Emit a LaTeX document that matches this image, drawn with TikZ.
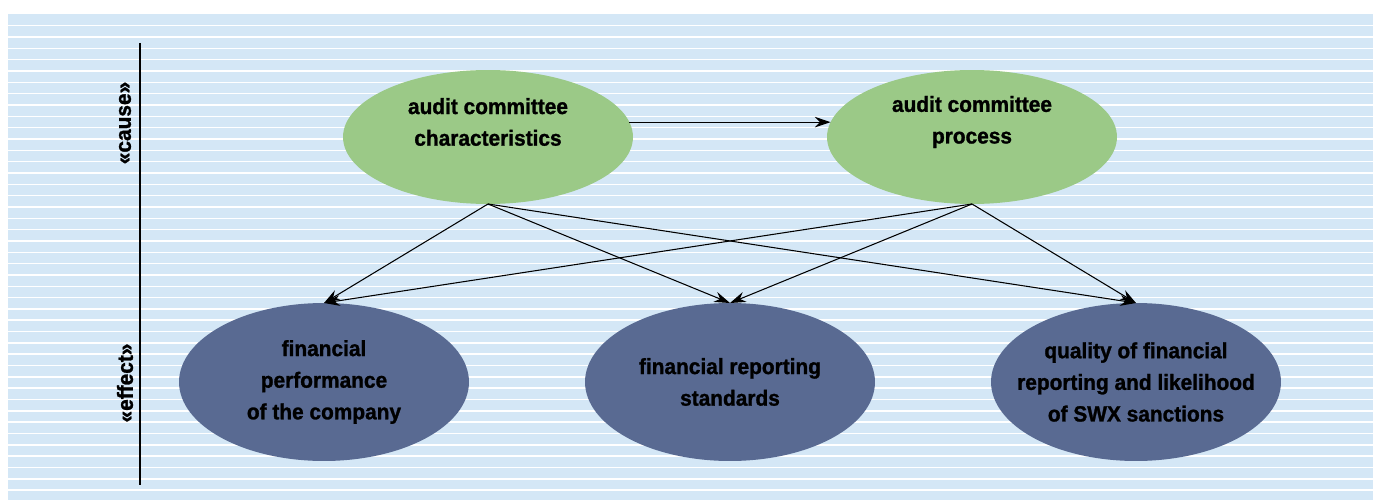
\documentclass[tikz,border=0pt]{standalone}
\usepackage{fontspec}
\setmainfont{Liberation Sans}[BoldFeatures={FakeStretch=0.95,FakeBold=1.2}]
\usetikzlibrary{shapes.geometric,arrows.meta}

\definecolor{paper}{HTML}{D4E7F6}
\definecolor{causegreen}{HTML}{9BC987}
\definecolor{effectblue}{HTML}{596A92}

\begin{document}
\begin{tikzpicture}[
	x=0.02cm, y=-0.02cm,
	font=\bfseries\fontsize{12.5}{18}\selectfont,
	cause/.style={
		shape=ellipse,
		fill=causegreen,
		minimum width=5.8cm,
		minimum height=2.68cm,
		inner sep=0pt,
		outer sep=0pt,
	},
	effect/.style={
		shape=ellipse,
		fill=effectblue,
		minimum width=5.8cm,
		minimum height=3.16cm,
		inner sep=0pt,
		outer sep=0pt,
	},
	caption/.style={
		align=center,
		inner sep=0pt,
	},
	link/.style={
		-{Stealth[length=9pt,width=6pt]},
		line width=0.6pt,
	},
	stripe/.style={
		white,
		line width=0.9pt,
	}
]

% background
\useasboundingbox (0,0) rectangle (1373,500);
\fill[paper] (8,14) rectangle (1373,500);
\foreach \i in {0,...,41}
	\draw[stripe] (8,25.7+11.33*\i) -- (1373,25.7+11.33*\i);

% axis
\draw[line width=0.6pt] (140,43) -- (140,485);
\node[caption, rotate=90] (causelabel) at (125,123) {«cause»};
\node[caption, rotate=90] (effectlabel) at (125,383) {«effect»};

% ellipses
\node[cause] (ach) at (488,137) {};
\node[cause] (apr) at (972,137) {};
\node[effect] (fp) at (324,382) {};
\node[effect] (frs) at (730,382) {};
\node[effect] (qfr) at (1136,382) {};

\node[caption] (achtext) at (488,122) {audit committee\\characteristics};
\node[caption] (aprtext) at (972,122) {audit committee\\process};
\node[caption] (fptext) at (324,382) {financial\\performance\\of the company};
\node[caption] (frstext) at (730,382) {financial reporting\\standards};
\node[caption] (qfrtext) at (1136,382) {quality of financial\\reporting and likelihood\\of SWX sanctions};

% links
\draw[link] (ach.6) -- (apr.174);
\draw[link] (ach.south) -- (fp.north);
\draw[link] (ach.south) -- (frs.north);
\draw[link] (ach.south) -- (qfr.north);
\draw[link] (apr.south) -- (fp.north);
\draw[link] (apr.south) -- (frs.north);
\draw[link] (apr.south) -- (qfr.north);

\end{tikzpicture}
\end{document}
